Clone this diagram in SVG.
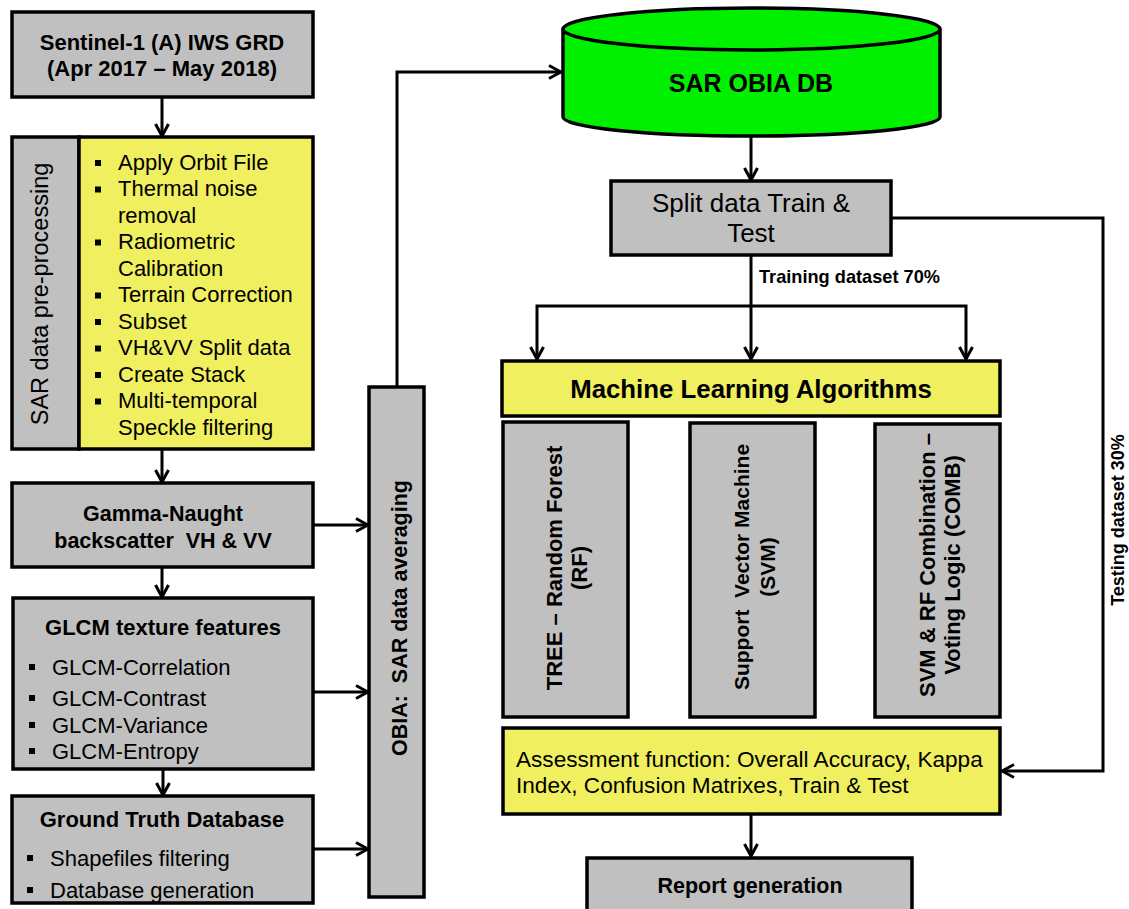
<svg xmlns="http://www.w3.org/2000/svg" width="1129" height="909" viewBox="0 0 1129 909">
<style>
.box{stroke:#000;stroke-width:3.5}
.gray{fill:#c0c0c0}
.yellow{fill:#f0ef5f}
.t{font-family:"Liberation Sans",Arial,sans-serif;fill:#000}
.b{font-weight:bold}
.c{text-anchor:middle}
.conn{fill:none;stroke:#000;stroke-width:3}
</style>
<defs>
<marker id="arr" viewBox="0 0 16 16" refX="14" refY="8" markerWidth="16" markerHeight="16" markerUnits="userSpaceOnUse" orient="auto">
<path d="M2,1.5 L14,8 L2,14.5" fill="none" stroke="#000" stroke-width="3"/>
</marker>
<rect id="bul" width="6" height="6" fill="#000"/>
</defs>
<rect width="1129" height="909" fill="#fff"/>

<g id="connectors">
<path class="conn" d="M162,97 V136" marker-end="url(#arr)"/>
<path class="conn" d="M162,449 V482" marker-end="url(#arr)"/>
<path class="conn" d="M162,567 V597" marker-end="url(#arr)"/>
<path class="conn" d="M163,769 V795" marker-end="url(#arr)"/>
<path class="conn" d="M313,525 H368" marker-end="url(#arr)"/>
<path class="conn" d="M313,692 H368" marker-end="url(#arr)"/>
<path class="conn" d="M313,849 H368" marker-end="url(#arr)"/>
<path class="conn" d="M397,387 V72 H561" marker-end="url(#arr)"/>
<path class="conn" d="M751,136 V180" marker-end="url(#arr)"/>
<path class="conn" d="M751,255 V359" marker-end="url(#arr)"/>
<path class="conn" d="M751,306 H537 V359" marker-end="url(#arr)"/>
<path class="conn" d="M751,306 H966 V359" marker-end="url(#arr)"/>
<path class="conn" d="M891,218 H1103 V771 H1002" marker-end="url(#arr)"/>
<path class="conn" d="M751,814 V856" marker-end="url(#arr)"/>
<text class="t b" x="759" y="283" font-size="18.2">Training dataset 70%</text>
<text class="t b c" font-size="18" transform="translate(1124,520) rotate(-90)">Testing dataset 30%</text>
</g>

<g id="sentinel">
<rect class="box gray" x="12" y="12" width="301" height="85"/>
<text class="t b c" x="162" y="50" font-size="22">Sentinel-1 (A) IWS GRD</text>
<text class="t b c" x="162" y="76" font-size="22">(Apr 2017 – May 2018)</text>
</g>

<g id="preprocessing">
<rect class="box gray" x="12" y="137" width="67" height="312"/>
<rect class="box yellow" x="79" y="137" width="234" height="312"/>
<text class="t c" font-size="23.5" transform="translate(48,294) rotate(-90)">SAR data pre-processing</text>
<g font-size="22" class="t">
<use href="#bul" x="95" y="160"/><text x="118" y="169.5">Apply Orbit File</text>
<use href="#bul" x="95" y="186.5"/><text x="118" y="196">Thermal noise</text>
<text x="118" y="222.5">removal</text>
<use href="#bul" x="95" y="239.5"/><text x="118" y="249">Radiometric</text>
<text x="118" y="275.5">Calibration</text>
<use href="#bul" x="95" y="292.5"/><text x="118" y="302">Terrain Correction</text>
<use href="#bul" x="95" y="319"/><text x="118" y="328.5">Subset</text>
<use href="#bul" x="95" y="345.5"/><text x="118" y="355">VH&amp;VV Split data</text>
<use href="#bul" x="95" y="372"/><text x="118" y="381.5">Create Stack</text>
<use href="#bul" x="95" y="398.5"/><text x="118" y="408">Multi-temporal</text>
<text x="118" y="434.5">Speckle filtering</text>
</g>
</g>

<g id="gamma">
<rect class="box gray" x="12" y="483" width="301" height="84"/>
<text class="t b c" x="163" y="521" font-size="21.5">Gamma-Naught</text>
<text class="t b c" x="163" y="548" font-size="21.5" xml:space="preserve">backscatter  VH &amp; VV</text>
</g>

<g id="glcm">
<rect class="box gray" x="13" y="598" width="300" height="171"/>
<text class="t b c" x="163" y="635" font-size="22">GLCM texture features</text>
<g font-size="22" class="t">
<use href="#bul" x="29" y="664"/><text x="52" y="675">GLCM-Correlation</text>
<use href="#bul" x="29" y="695"/><text x="52" y="706">GLCM-Contrast</text>
<use href="#bul" x="29" y="722"/><text x="52" y="733">GLCM-Variance</text>
<use href="#bul" x="29" y="748"/><text x="52" y="759">GLCM-Entropy</text>
</g>
</g>

<g id="groundtruth">
<rect class="box gray" x="12" y="796" width="301" height="107"/>
<text class="t b c" x="162" y="827" font-size="22">Ground Truth Database</text>
<g font-size="22" class="t">
<use href="#bul" x="27" y="855"/><text x="50" y="866">Shapefiles filtering</text>
<use href="#bul" x="27" y="887"/><text x="50" y="898">Database generation</text>
</g>
</g>

<g id="obia">
<rect class="box gray" x="369" y="387" width="55" height="510"/>
<text class="t b c" font-size="21.5" xml:space="preserve" transform="translate(407,618) rotate(-90)">OBIA:  SAR data averaging</text>
</g>

<g id="db">
<path class="box" fill="#00f000" d="M563,29 V117 A188.5,19 0 0 0 940,117 V29"/>
<ellipse class="box" fill="#00f000" cx="751.5" cy="29" rx="188.5" ry="21"/>
<text class="t b c" x="751" y="92" font-size="25">SAR OBIA DB</text>
</g>

<g id="split">
<rect class="box gray" x="611" y="181" width="280" height="74"/>
<text class="t c" x="751" y="212" font-size="26">Split data Train &amp;</text>
<text class="t c" x="751" y="242" font-size="26">Test</text>
</g>

<g id="ml">
<rect class="box yellow" x="502" y="361" width="498" height="55"/>
<text class="t b c" x="751" y="398" font-size="25.8">Machine Learning Algorithms</text>
</g>

<g id="rf">
<rect class="box gray" x="503" y="422" width="125" height="295"/>
<text class="t b c" font-size="22" transform="translate(0,568) rotate(-90)"><tspan x="0" y="562">TREE – Random Forest</tspan><tspan x="0" y="587">(RF)</tspan></text>
</g>

<g id="svm">
<rect class="box gray" x="690" y="423" width="125" height="294"/>
<text class="t b c" font-size="21" xml:space="preserve" transform="translate(0,567) rotate(-90)"><tspan x="0" y="749">Support  Vector Machine</tspan><tspan x="0" y="775">(SVM)</tspan></text>
</g>

<g id="comb">
<rect class="box gray" x="875" y="424" width="125" height="293"/>
<text class="t b c" font-size="22" transform="translate(0,565) rotate(-90)"><tspan x="0" y="935">SVM &amp; RF Combination –</tspan><tspan x="0" y="960">Voting Logic (COMB)</tspan></text>
</g>

<g id="assessment">
<rect class="box yellow" x="503" y="728" width="497" height="86"/>
<text class="t" x="516" y="767" font-size="22.6">Assessment function: Overall Accuracy, Kappa</text>
<text class="t" x="516" y="793" font-size="22.6">Index, Confusion Matrixes, Train &amp; Test</text>
</g>

<g id="report">
<rect class="box gray" x="587" y="858" width="325" height="70"/>
<text class="t b c" x="750" y="893" font-size="21.5">Report generation</text>
</g>
</svg>
